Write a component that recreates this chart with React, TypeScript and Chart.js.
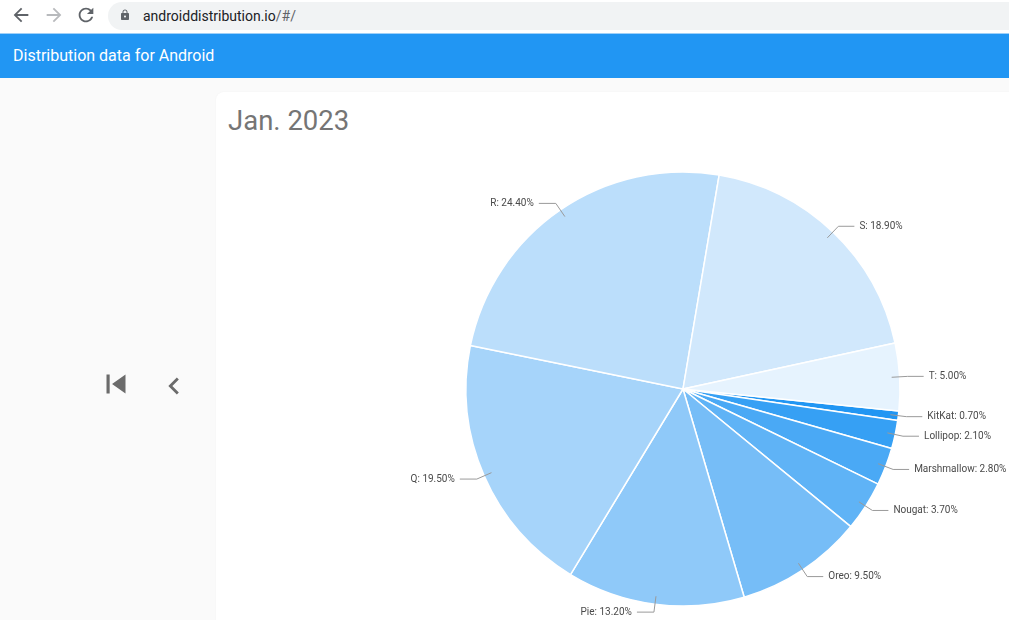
import React, { useEffect, useRef } from "react";
import { Chart, registerables } from "chart.js";

Chart.register(...registerables);

const versions = ["KitKat", "Lollipop", "Marshmallow", "Nougat", "Oreo", "Pie", "Q", "R", "S", "T"];
const shares = [0.7, 2.1, 2.8, 3.7, 9.5, 13.2, 19.5, 24.4, 18.9, 5.0];
const sliceColors = [
  "#2196f3",
  "#36a0f4",
  "#4aa9f5",
  "#5fb3f6",
  "#76bdf7",
  "#8fc9f9",
  "#a6d4fa",
  "#bbdefb",
  "#d1e8fc",
  "#e6f3fe",
];
const titleText = "Jan. 2023";
const appTitle = "Distribution data for Android";

const leaderPlugin = {
  id: "leaderLabels",
  afterDraw(chart: any) {
    const ctx = chart.ctx;
    const meta = chart.getDatasetMeta(0);
    const labels = chart.data.labels as string[];
    const data = chart.data.datasets[0].data as number[];
    ctx.save();
    ctx.font = "10px Roboto, 'Noto Sans', sans-serif";
    ctx.textBaseline = "middle";
    meta.data.forEach((arc: any, i: number) => {
      const { x, y, startAngle, endAngle, outerRadius } = arc.getProps(
        ["x", "y", "startAngle", "endAngle", "outerRadius"],
        true
      );
      const mid = (startAngle + endAngle) / 2;
      const c = Math.cos(mid);
      const s = Math.sin(mid);
      const ax = x + (outerRadius - 8) * c;
      const ay = y + (outerRadius - 8) * s;
      const ex = x + (outerRadius + 8) * c;
      const ey = y + (outerRadius + 8) * s;
      const right = c >= 0;
      const hx = ex + (right ? 16 : -17);
      ctx.strokeStyle = "#9a9a9a";
      ctx.lineWidth = 1;
      ctx.beginPath();
      ctx.moveTo(ax, ay);
      ctx.lineTo(ex, ey);
      ctx.lineTo(hx, ey);
      ctx.stroke();
      ctx.fillStyle = "#4a4a4a";
      ctx.textAlign = right ? "left" : "right";
      const txt = `${labels[i]}: ${data[i].toFixed(2)}%`;
      ctx.fillText(txt, hx + (right ? 5 : -5), ey);
    });
    ctx.restore();
  },
};

function Icon({ d, size, color, style }: { d: string; size: number; color: string; style: any }) {
  return (
    <svg width={size} height={size} viewBox="0 0 24 24" style={{ position: "absolute", ...style }}>
      <path d={d} fill={color} />
    </svg>
  );
}

export default function App() {
  const canvasRef = useRef<HTMLCanvasElement | null>(null);

  useEffect(() => {
    document.body.style.margin = "0";
    const canvas = canvasRef.current;
    if (!canvas) return;
    const chart = new Chart(canvas, {
      type: "pie",
      data: {
        labels: versions,
        datasets: [
          {
            data: shares,
            backgroundColor: sliceColors,
            borderColor: "#ffffff",
            borderWidth: 1.5,
            radius: 217,
          } as any,
        ],
      },
      options: {
        responsive: false,
        animation: false,
        rotation: 95.8,
        layout: { padding: { left: 250, right: 109, top: 80, bottom: 14 } },
        plugins: {
          legend: { display: false },
          tooltip: { enabled: false },
        },
      },
      plugins: [leaderPlugin],
    });
    return () => chart.destroy();
  }, []);

  return (
    <div
      style={{
        position: "fixed",
        left: 0,
        top: 0,
        width: 1009,
        height: 620,
        overflow: "hidden",
        background: "#fafafa",
        fontFamily: "Roboto, 'Noto Sans', sans-serif",
      }}
    >
      {/* browser chrome */}
      <div style={{ position: "absolute", left: 0, top: 0, width: 1009, height: 33, background: "#ffffff" }}>
        <Icon d="M20 11H7.83l5.59-5.59L12 4l-8 8 8 8 1.41-1.41L7.83 13H20v-2z" size={22} color="#5f6368" style={{ left: 10, top: 4 }} />
        <Icon d="M12 4l-1.41 1.41L16.17 11H4v2h12.17l-5.58 5.59L12 20l8-8z" size={22} color="#b8babd" style={{ left: 43, top: 4 }} />
        <Icon
          d="M17.65 6.35C16.2 4.9 14.21 4 12 4c-4.42 0-7.990 3.58-7.99 8s3.57 8 7.99 8c3.73 0 6.84-2.550 7.73-6h-2.08c-.82 2.33-3.04 4-5.65 4-3.31 0-6-2.69-6-6s2.69-6 6-6c1.66 0 3.14.69 4.22 1.78L13 11h7V4l-2.35 2.35z"
          size={22}
          color="#5f6368"
          style={{ left: 75, top: 4 }}
        />
        <div
          style={{
            position: "absolute",
            left: 108,
            top: 2,
            width: 940,
            height: 28,
            borderRadius: 14,
            background: "#f1f3f4",
          }}
        >
          <Icon
            d="M18 8h-1V6c0-2.76-2.24-5-5-5S7 3.24 7 6v2H6c-1.1 0-2 .9-2 2v10c0 1.1.9 2 2 2h12c1.1 0 2-.9 2-2V10c0-1.1-.9-2-2-2zm-6 9c-1.1 0-2-.9-2-2s.9-2 2-2 2 .9 2 2-.9 2-2 2zm3.1-9H8.9V6c0-1.71 1.39-3.1 3.1-3.1 1.71 0 3.1 1.39 3.1 3.1v2z"
            size={12}
            color="#5f6368"
            style={{ left: 11, top: 7 }}
          />
          <div
            style={{
              position: "absolute",
              left: 35,
              top: 0,
              height: 28,
              lineHeight: "28px",
              fontSize: 14,
              color: "#202124",
              whiteSpace: "nowrap",
            }}
          >
            androiddistribution.io<span style={{ color: "#5f6368" }}>/#/</span>
          </div>
        </div>
      </div>
      {/* app bar */}
      <div
        style={{
          position: "absolute",
          left: 0,
          top: 33,
          width: 1009,
          height: 45,
          background: "#2196f3",
          borderTop: "1px solid #9fd0f8",
          boxSizing: "border-box",
        }}
      >
        <div
          style={{
            position: "absolute",
            left: 13,
            top: 0,
            lineHeight: "44px",
            fontSize: 16,
            fontWeight: 400,
            color: "#ffffff",
            whiteSpace: "nowrap",
          }}
        >
          {appTitle}
        </div>
      </div>
      {/* nav icons */}
      <Icon d="M6 6h2v12H6zm3.5 6l8.5 6V6z" size={38} color="#6b6b6b" style={{ left: 97, top: 365 }} />
      <Icon d="M15.41 7.41L14 6l-6 6 6 6 1.41-1.41L10.83 12z" size={34} color="#6b6b6b" style={{ left: 157, top: 369 }} />
      {/* card */}
      <div
        style={{
          position: "absolute",
          left: 216,
          top: 92,
          width: 820,
          height: 560,
          background: "#ffffff",
          borderRadius: 8,
          boxShadow: "0 0 2px rgba(0,0,0,0.04)",
        }}
      >
        <div
          style={{
            position: "absolute",
            left: 12,
            top: 11,
            fontSize: 27.5,
            fontWeight: 400,
            color: "#757575",
            lineHeight: "36px",
            whiteSpace: "nowrap",
          }}
        >
          {titleText}
        </div>
        <canvas
          ref={canvasRef}
          width={793}
          height={528}
          style={{ position: "absolute", left: 0, top: 0, width: 793, height: 528 }}
        />
      </div>
    </div>
  );
}
